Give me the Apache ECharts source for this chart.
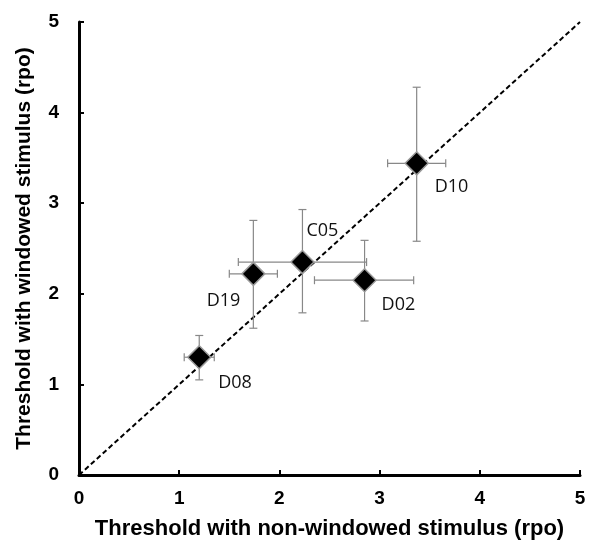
<!DOCTYPE html>
<html>
<head>
<meta charset="utf-8">
<script src="https://cdn.jsdelivr.net/npm/echarts@6/dist/echarts.min.js"></script>
<style>
  html, body { margin: 0; padding: 0; background: #fff; }
  #main { width: 589px; height: 545px; }
</style>
</head>
<body>
<div id="main"></div>
<script>
// observers
var names = ["D08", "D19", "C05", "D02", "D10"];
// threshold, non-windowed stimulus (x) with error range
var xVal = [1.20, 1.74, 2.23, 2.85, 3.37];
var xLow = [1.05, 1.50, 1.59, 2.35, 3.08];
var xHigh = [1.35, 1.98, 2.87, 3.34, 3.66];
// threshold, windowed stimulus (y) with error range
var yVal = [1.30, 2.22, 2.35, 2.15, 3.44];
var yLow = [1.05, 1.62, 1.79, 1.70, 2.58];
var yHigh = [1.54, 2.81, 2.93, 2.59, 4.28];
// identity line
var diag = [[0, 0], [5, 5]];

// where each name sits next to its diamond
var labelPos = {
  D08: { align: "left", offset: [19, 26] },
  D19: { align: "right", offset: [-13, 27] },
  C05: { align: "left", offset: [4, -31] },
  D02: { align: "left", offset: [17, 25] },
  D10: { align: "left", offset: [18, 24] }
};

var points = [];
var bars = [];
for (var i = 0; i < names.length; i++) {
  var lp = labelPos[names[i]];
  points.push({
    value: [xVal[i], yVal[i]],
    name: names[i],
    label: { align: lp.align, offset: lp.offset }
  });
  bars.push([xVal[i], yVal[i], xLow[i], xHigh[i], yLow[i], yHigh[i]]);
}

var myChart = echarts.init(document.getElementById("main"));

var tickFont = { fontFamily: "Liberation Sans", fontWeight: "bold", fontSize: 19, color: "#000" };

var option = {
  animation: false,
  backgroundColor: "#fff",
  grid: { left: 79, right: 9, top: 22, bottom: 62 },
  xAxis: {
    type: "value",
    min: 0,
    max: 5,
    interval: 1,
    name: "Threshold with non-windowed stimulus (rpo)",
    nameLocation: "middle",
    nameGap: 43,
    nameTextStyle: { fontFamily: "Liberation Sans", fontWeight: "bold", fontSize: 22, color: "#000" },
    axisLine: { lineStyle: { color: "#000", width: 3 } },
    axisTick: { inside: true, length: 5, lineStyle: { color: "#000", width: 2 } },
    axisLabel: Object.assign({ margin: 14 }, tickFont),
    splitLine: { show: false }
  },
  yAxis: {
    type: "value",
    min: 0,
    max: 5,
    interval: 1,
    name: "Threshold with windowed stimulus (rpo)",
    nameLocation: "middle",
    nameGap: 44,
    nameTextStyle: { fontFamily: "Liberation Sans", fontWeight: "bold", fontSize: 21, color: "#000" },
    axisLine: { lineStyle: { color: "#000", width: 3 } },
    axisTick: { inside: true, length: 5, lineStyle: { color: "#000", width: 2 } },
    axisLabel: Object.assign({ margin: 20 }, tickFont),
    splitLine: { show: false }
  },
  series: [
    {
      type: "line",
      data: diag,
      symbol: "none",
      lineStyle: { color: "#000", width: 2, type: [5, 3] },
      z: 2
    },
    {
      type: "custom",
      data: bars,
      z: 3,
      renderItem: function (params, api) {
        var c = api.coord([api.value(0), api.value(1)]);
        var l = api.coord([api.value(2), api.value(1)]);
        var r = api.coord([api.value(3), api.value(1)]);
        var b = api.coord([api.value(0), api.value(4)]);
        var t = api.coord([api.value(0), api.value(5)]);
        var cap = 4;
        var st = { stroke: "#888", lineWidth: 1.2 };
        var seg = function (x1, y1, x2, y2) {
          return { type: "line", shape: { x1: x1, y1: y1, x2: x2, y2: y2 }, style: st };
        };
        return {
          type: "group",
          children: [
            seg(l[0], c[1], r[0], c[1]),
            seg(l[0], c[1] - cap, l[0], c[1] + cap),
            seg(r[0], c[1] - cap, r[0], c[1] + cap),
            seg(c[0], b[1], c[0], t[1]),
            seg(c[0] - cap, b[1], c[0] + cap, b[1]),
            seg(c[0] - cap, t[1], c[0] + cap, t[1])
          ]
        };
      }
    },
    {
      type: "scatter",
      data: points,
      symbol: "diamond",
      symbolSize: 23,
      z: 4,
      itemStyle: { color: "#000", opacity: 1, borderColor: "#9a9a9a", borderWidth: 1.5 },
      label: {
        show: true,
        position: "inside",
        verticalAlign: "middle",
        formatter: "{b}",
        fontFamily: "Open Sans",
        fontSize: 18,
        color: "#111"
      }
    }
  ]
};

myChart.setOption(option);
</script>
</body>
</html>
